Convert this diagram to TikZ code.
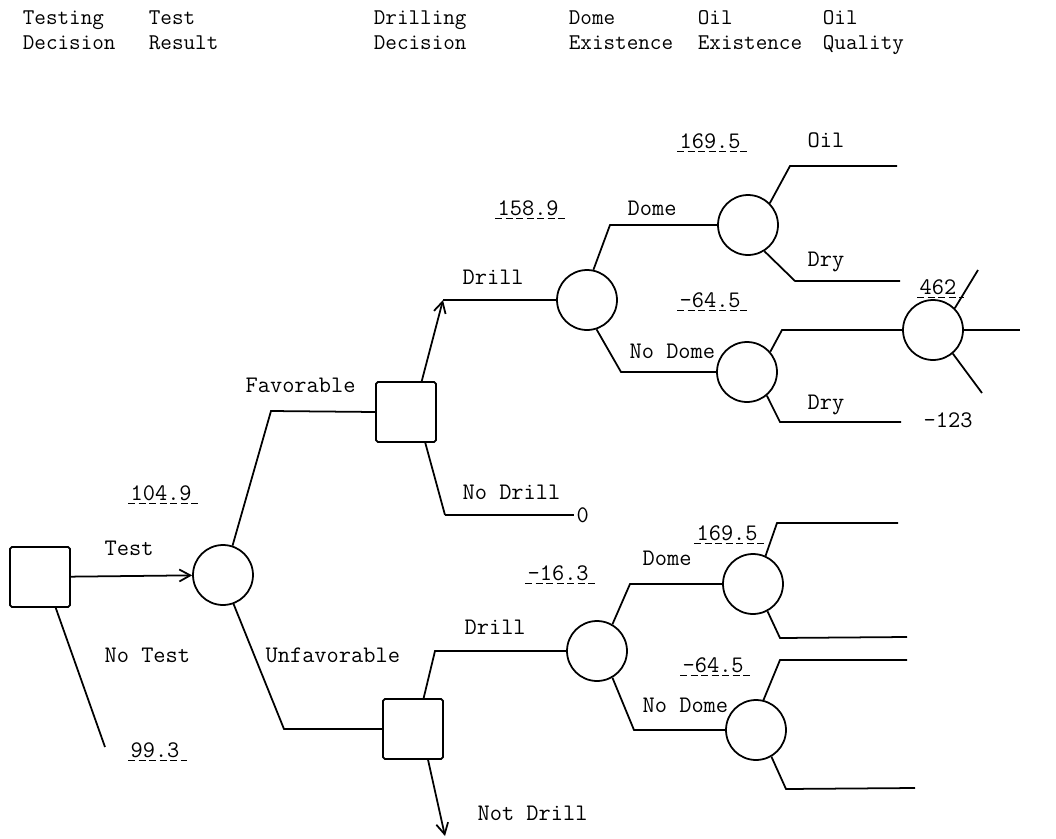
\documentclass[tikz,border=0pt]{standalone}
\usepackage{tikz}
\usetikzlibrary{calc,arrows.meta,positioning}

\begin{document}
\begin{tikzpicture}[x=0.02cm, y=-0.02cm,
  line width=1pt,
  dec/.style={draw, rectangle, rounded corners=1pt, minimum size=1.2cm, inner sep=0pt},
  chance/.style={draw, circle, minimum size=1.2cm, inner sep=0pt},
  lbl/.style={anchor=west, inner sep=1pt, font=\ttfamily\fontsize{13.5}{16}\selectfont},
  head/.style={anchor=base west, align=left, inner sep=0pt, font=\ttfamily\fontsize{12.8}{14.2}\selectfont},
  val/.style={lbl, append after command={
      (\tikzlastnode.south west) edge[dashed, line width=0.7pt, dash pattern=on 4pt off 2pt]
      ([xshift=3pt]\tikzlastnode.south east)}},
  arr/.style={-{Straight Barb[length=2.2mm, width=2.4mm]}}
]
\useasboundingbox (0,0) rectangle (1056,839);

% column heads
\node[head] (hTD) at (22,49)  {Testing\\Decision};
\node[head] (hTR) at (148,49) {Test\\Result};
\node[head] (hDD) at (373,49) {Drilling\\Decision};
\node[head] (hDE) at (568,49) {Dome\\Existence};
\node[head] (hOE) at (697,49) {Oil\\Existence};
\node[head] (hOQ) at (822,49) {Oil\\Quality};

% decision and chance nodes
\node[dec] (root) at (40,577) {};
\node[chance] (tc) at (223,575) {};
\node[dec] (fav) at (406,412) {};
\node[dec] (unf) at (413,729) {};
\node[chance] (d1) at (587,300) {};
\node[chance] (d2) at (597,651) {};
\node[chance] (dome1) at (748,225) {};
\node[chance] (nodome1) at (747,372) {};
\node[chance] (q1) at (933,330) {};
\node[chance] (dome2) at (753,584) {};
\node[chance] (nodome2) at (756,730) {};

% corners and loose ends
\coordinate (ntE) at (105,747);
\coordinate (favC) at (271,411);
\coordinate (unfC) at (284,729);
\coordinate (drC1) at (443,300);
\coordinate (ndC) at (445,515);
\coordinate (drC2) at (435,651);
\coordinate (ndrE) at (445,836);
\coordinate (dmC1) at (610,225);
\coordinate (ndmC1) at (621,372);
\coordinate (oilC) at (790,166);  \coordinate (oilE) at (897,166);
\coordinate (dryC) at (795,281);  \coordinate (dryE) at (900,281);
\coordinate (nuC) at (782,330);
\coordinate (nlC) at (780,422);   \coordinate (nlE) at (901,422);
\coordinate (qa) at (978,270);
\coordinate (qb) at (1020,330);
\coordinate (qc) at (982,393);
\coordinate (dmC2) at (630,584);
\coordinate (ndmC2) at (634,730);
\coordinate (duC) at (777,523);   \coordinate (duE) at (898,523);
\coordinate (dlC) at (780,638);   \coordinate (dlE) at (907,637);
\coordinate (nduC) at (780,660);  \coordinate (nduE) at (907,660);
\coordinate (ndlC) at (786,789);  \coordinate (ndlE) at (915,788);

% branches
\draw[arr] (root) -- (tc);
\draw (root.-63) -- (ntE);
\draw (tc.72) -- (favC) -- (fav.west);
\draw (tc.-70) -- (unfC) -- (unf.west);
\draw[arr] (fav.63) -- (drC1);
\draw (drC1) -- (d1.west);
\draw (fav.-58) -- (ndC);
\draw (unf.71) -- (drC2) -- (d2.west);
\draw[arr] (unf.-64) -- (ndrE);
\draw (d1.78) -- (dmC1) -- (dome1.west);
\draw (d1.-72) -- (ndmC1) -- (nodome1.west);
\draw (dome1.45) -- (oilC) -- (oilE);
\draw (dome1.-58) -- (dryC) -- (dryE);
\draw (nodome1.41) -- (nuC) -- (q1.west);
\draw (nodome1.-50) -- (nlC) -- (nlE);
\foreach \a/\e in {45/qa, 0/qb, -50/qc} { \draw (q1.\a) -- (\e); }
\draw (d2.60) -- (dmC2) -- (dome2.west);
\draw (d2.-60) -- (ndmC2) -- (nodome2.west);
\draw (dome2.66) -- (duC) -- (duE);
\draw (dome2.-62) -- (dlC) -- (dlE);
\draw (nodome2.76) -- (nduC) -- (nduE);
\draw (nodome2.-60) -- (ndlC) -- (ndlE);

% branch labels
\node[lbl] (lTest) at (102,548) {Test};
\node[lbl] (lNoTest) at (102,655) {No Test};
\node[lbl] (lFav) at (243,385) {Favorable};
\node[lbl] (lUnf) at (263,655) {Unfavorable};
\node[lbl] (lDr1) at (460,277) {Drill};
\node[lbl] (lNoDr) at (460,492) {No Drill};
\node[lbl] (zero) at (574,515) {0};
\draw (ndC) -- (zero.west);
\node[lbl] (lDr2) at (462,627) {Drill};
\node[lbl] (lNotDr) at (475,813) {Not Drill};
\node[lbl] (lDome1) at (625,208) {Dome};
\node[lbl] (lOil) at (805,140) {Oil};
\node[lbl] (lDry1) at (805,262) {Dry};
\node[lbl] (lNoDome1) at (627,351) {No Dome};
\node[lbl] (lDry2) at (805,405) {Dry};
\node[lbl] (lNeg) at (921,420) {-123};
\node[lbl] (lDome2) at (640,558) {Dome};
\node[lbl] (lNoDome2) at (640,705) {No Dome};

% expected values
\node[val] (v1) at (128,493) {104.9};
\node[val] (v2) at (128,750) {99.3};
\node[val] (v3) at (495,208) {158.9};
\node[val] (v4) at (677,141) {169.5};
\node[val] (v5) at (677,300) {-64.5};
\node[val] (v6) at (917,287) {462};
\node[val] (v7) at (525,573) {-16.3};
\node[val] (v8) at (694,533) {169.5};
\node[val] (v9) at (680,665) {-64.5};
\end{tikzpicture}
\end{document}
